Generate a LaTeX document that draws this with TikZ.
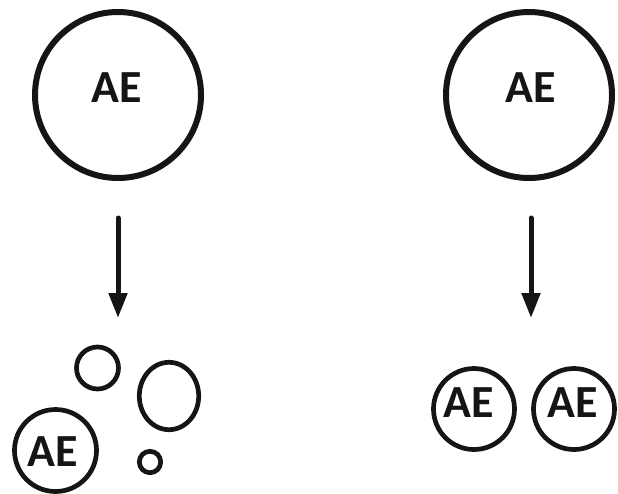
\documentclass[tikz,border=0pt]{standalone}
\usepackage{fontspec}
\setmainfont{Carlito}
\usetikzlibrary{arrows.meta,shapes.geometric}
\definecolor{ink}{HTML}{151515}

\begin{document}
\begin{tikzpicture}[x=1pt,y=-1pt,
  bigring/.style={circle,draw=ink,line width=6pt,minimum size=166pt,inner sep=0pt},
  ring/.style={circle,draw=ink,line width=4.7pt,inner sep=0pt,minimum size=#1},
  oval/.style={ellipse,draw=ink,line width=4.7pt,inner sep=0pt},
  lbl/.style={text=ink,font=\fontsize{46}{46}\selectfont\bfseries,inner sep=0pt},
  flow/.style={draw=ink,line width=5pt,line cap=round,-{Triangle[width=18pt,length=25pt]}}]
  \useasboundingbox (0,0) rectangle (618,493);

  % left: one large sphere breaking apart
  \node[bigring] (L) at (118,95) {};
  \node[lbl] (Lt) at (117,88) {AE};
  \coordinate (La) at (118,218);
  \coordinate (Lb) at (118,318);
  \draw[flow] (La) -- (Lb);
  \node[ring=42pt] (s1) at (97.5,368) {};
  \node[oval,minimum width=59.4pt,minimum height=67.4pt] (s2) at (169,396) {};
  \node[ring=82pt] (s3) at (55.5,450.5) {};
  \node[lbl] (s3t) at (53,452) {AE};
  \node[ring=21.4pt] (s4) at (150,462) {};

  % right: one large sphere splitting into two equal ones
  \node[bigring] (R) at (529,95) {};
  \node[lbl] (Rt) at (531,88) {AE};
  \coordinate (Ra) at (531,218);
  \coordinate (Rb) at (531,318);
  \draw[flow] (Ra) -- (Rb);
  \node[ring=81pt] (d1) at (474,409) {};
  \node[lbl] (d1t) at (469,403) {AE};
  \node[ring=81pt] (d2) at (574,409) {};
  \node[lbl] (d2t) at (573,403) {AE};
\end{tikzpicture}
\end{document}
